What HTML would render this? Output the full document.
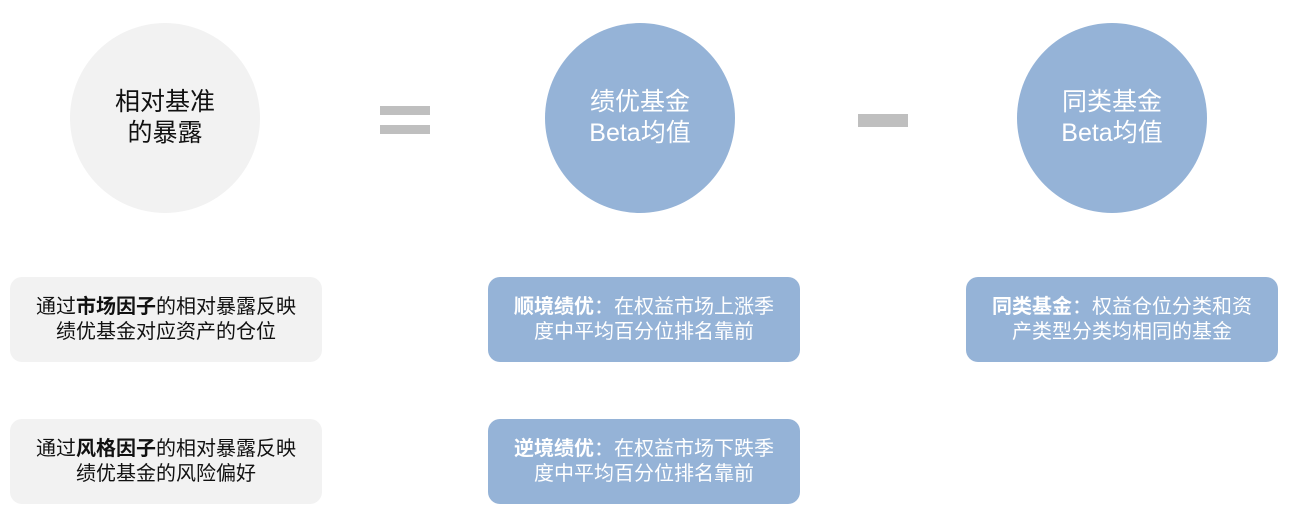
<!DOCTYPE html>
<html><head><meta charset="utf-8"><style>
body{margin:0;width:1293px;height:519px;background:#fff;position:relative;overflow:hidden;font-family:"Liberation Sans","Noto Sans CJK SC",sans-serif}
.c{position:absolute;width:190px;height:190px;border-radius:50%;display:flex;align-items:center;justify-content:center;text-align:center;font-size:25px;line-height:31px}
.b{position:absolute;width:312px;height:85px;border-radius:12px;display:flex;align-items:center;justify-content:center;text-align:center;font-size:20px;line-height:25px}
.g{background:#f2f2f2;color:#111}
.bl{background:#95b3d7;color:#fff}
.bar{position:absolute;background:#bfbfbf}
</style></head><body>
<div class="c g" style="left:70px;top:23px"><span>相对基准<br>的暴露</span></div>
<div class="c bl" style="left:545px;top:23px"><span>绩优基金<br>Beta均值</span></div>
<div class="c bl" style="left:1017px;top:23px"><span>同类基金<br>Beta均值</span></div>
<div class="bar" style="left:380px;top:106px;width:50px;height:9px"></div>
<div class="bar" style="left:380px;top:125px;width:50px;height:9px"></div>
<div class="bar" style="left:858px;top:114px;width:50px;height:13px"></div>
<div class="b g" style="left:10px;top:277px"><span>通过<b>市场因子</b>的相对暴露反映<br>绩优基金对应资产的仓位</span></div>
<div class="b g" style="left:10px;top:419px"><span>通过<b>风格因子</b>的相对暴露反映<br>绩优基金的风险偏好</span></div>
<div class="b bl" style="left:488px;top:277px"><span><b>顺境绩优</b>：在权益市场上涨季<br>度中平均百分位排名靠前</span></div>
<div class="b bl" style="left:488px;top:419px"><span><b>逆境绩优</b>：在权益市场下跌季<br>度中平均百分位排名靠前</span></div>
<div class="b bl" style="left:966px;top:277px"><span><b>同类基金</b>：权益仓位分类和资<br>产类型分类均相同的基金</span></div>
</body></html>
